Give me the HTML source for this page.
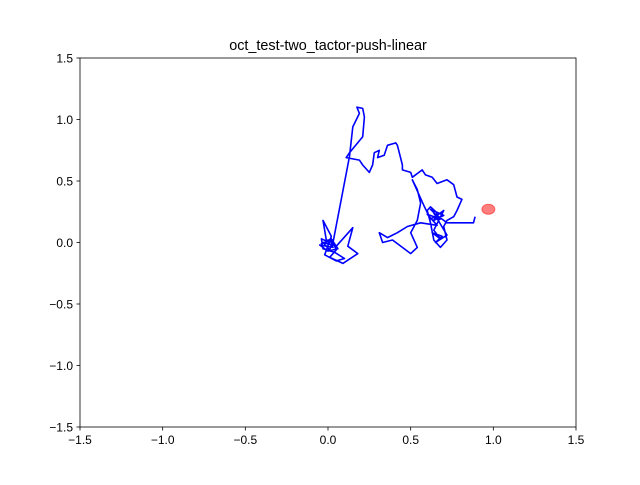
<!DOCTYPE html>
<html><head><meta charset="utf-8"><style>
body{margin:0;background:#fff;}
svg{font-family:"Liberation Sans","DejaVu Sans",sans-serif;}
</style></head><body>
<svg id="chart" width="640" height="480" xmlns="http://www.w3.org/2000/svg">
<rect width="640" height="480" fill="#fff"/>
<text x="328" y="50" font-size="14.4" text-anchor="middle">oct_test-two_tactor-push-linear</text>
<g id="plot"></g>
</svg>
<script>
const xTicks=[-1.5,-1.0,-0.5,0.0,0.5,1.0,1.5];
const yTicks=[-1.5,-1.0,-0.5,0.0,0.5,1.0,1.5];
const tickLabels=["\u22121.5","\u22121.0","\u22120.5","0.0","0.5","1.0","1.5"];
const pathX=[0.01,-0.04,-0.03,0.04,0.10,0.05,-0.02,0.02,-0.03,-0.01,0.03,-0.05,0.00,0.06,0.02,-0.04,0.03,0.01,-0.03,0.05,0.15,0.12,0.18,0.09,0.01,0.05,0.03,0.00,0.04,0.03,0.13,0.15,0.19,0.175,0.21,0.22,0.21,0.13,0.11,0.19,0.21,0.25,0.27,0.28,0.31,0.30,0.34,0.36,0.41,0.42,0.45,0.45,0.50,0.51,0.57,0.59,0.63,0.66,0.72,0.76,0.78,0.81,0.78,0.76,0.72,0.70,0.72,0.68,0.64,0.62,0.60,0.62,0.66,0.64,0.70,0.62,0.68,0.60,0.66,0.56,0.48,0.42,0.36,0.31,0.33,0.39,0.45,0.50,0.54,0.50,0.54,0.56,0.54,0.51,0.58,0.62,0.66,0.70,0.64,0.68,0.63,0.69,0.65,0.72,0.64,0.68,0.72,0.82,0.88,0.89];
const pathY=[0.00,0.03,-0.05,-0.08,-0.13,-0.15,-0.10,0.05,0.18,0.02,-0.04,-0.02,-0.07,-0.05,0.03,-0.01,0.02,-0.06,0.00,-0.03,0.12,-0.03,-0.09,-0.17,-0.12,-0.06,0.00,0.02,-0.02,0.00,0.70,0.94,1.05,1.10,1.09,1.02,0.86,0.73,0.69,0.67,0.63,0.57,0.63,0.73,0.75,0.69,0.71,0.79,0.81,0.79,0.63,0.59,0.57,0.53,0.59,0.55,0.53,0.48,0.51,0.47,0.37,0.35,0.26,0.21,0.18,0.13,0.02,-0.04,0.02,0.16,0.26,0.29,0.24,0.18,0.22,0.27,0.19,0.23,0.14,0.16,0.13,0.08,0.04,0.08,0.00,0.02,-0.04,-0.09,-0.04,0.08,0.18,0.32,0.43,0.51,0.30,0.19,0.22,0.26,0.10,0.03,0.08,0.05,0.00,0.06,0.24,0.20,0.16,0.16,0.16,0.21];
const targetX=[0.97];
const targetY=[0.27];
const NS="http://www.w3.org/2000/svg";
const L=80,R=576,T=58,B=427;
function sx(v){return L+(v+1.5)/3*(R-L);}
function sy(v){return B-(v+1.5)/3*(B-T);}
const g=document.getElementById('plot');
function mk(t,a){const e=document.createElementNS(NS,t);for(const k in a)e.setAttribute(k,a[k]);g.appendChild(e);return e;}
const frame=mk('rect',{x:L,y:T,width:R-L,height:B-T,fill:'none',stroke:'#000','stroke-width':0.8});


xTicks.forEach((v,i)=>{
 const l=mk('line',{x1:sx(v),x2:sx(v),y1:B,y2:B+3.5,stroke:'#000','stroke-width':0.8});
 
 
 const t=mk('text',{x:sx(v),y:B+17,'font-size':12,'text-anchor':'middle'});
 t.textContent=tickLabels[i];
 
 
});
yTicks.forEach((v,i)=>{
 const l=mk('line',{x1:L-3.5,x2:L,y1:sy(v),y2:sy(v),stroke:'#000','stroke-width':0.8});
 
 
 const t=mk('text',{x:L-7,y:sy(v)+4.5,'font-size':12,'text-anchor':'end'});
 t.textContent=tickLabels[i];
 
 
});
const d=pathX.map((x,i)=>(i?'L':'M')+sx(x).toFixed(1)+' '+sy(pathY[i]).toFixed(1)).join(' ');
const p=mk('path',{d:d,fill:'none',stroke:'#0000ff','stroke-width':1.6,'stroke-linejoin':'round'});


targetX.forEach((x,i)=>{
 const c=mk('ellipse',{cx:sx(x),cy:sy(targetY[i]),rx:6.5,ry:5,fill:'#ff0000','fill-opacity':0.5,stroke:'#ff0000','stroke-opacity':0.5});
 
 
});
</script>
</body></html>
